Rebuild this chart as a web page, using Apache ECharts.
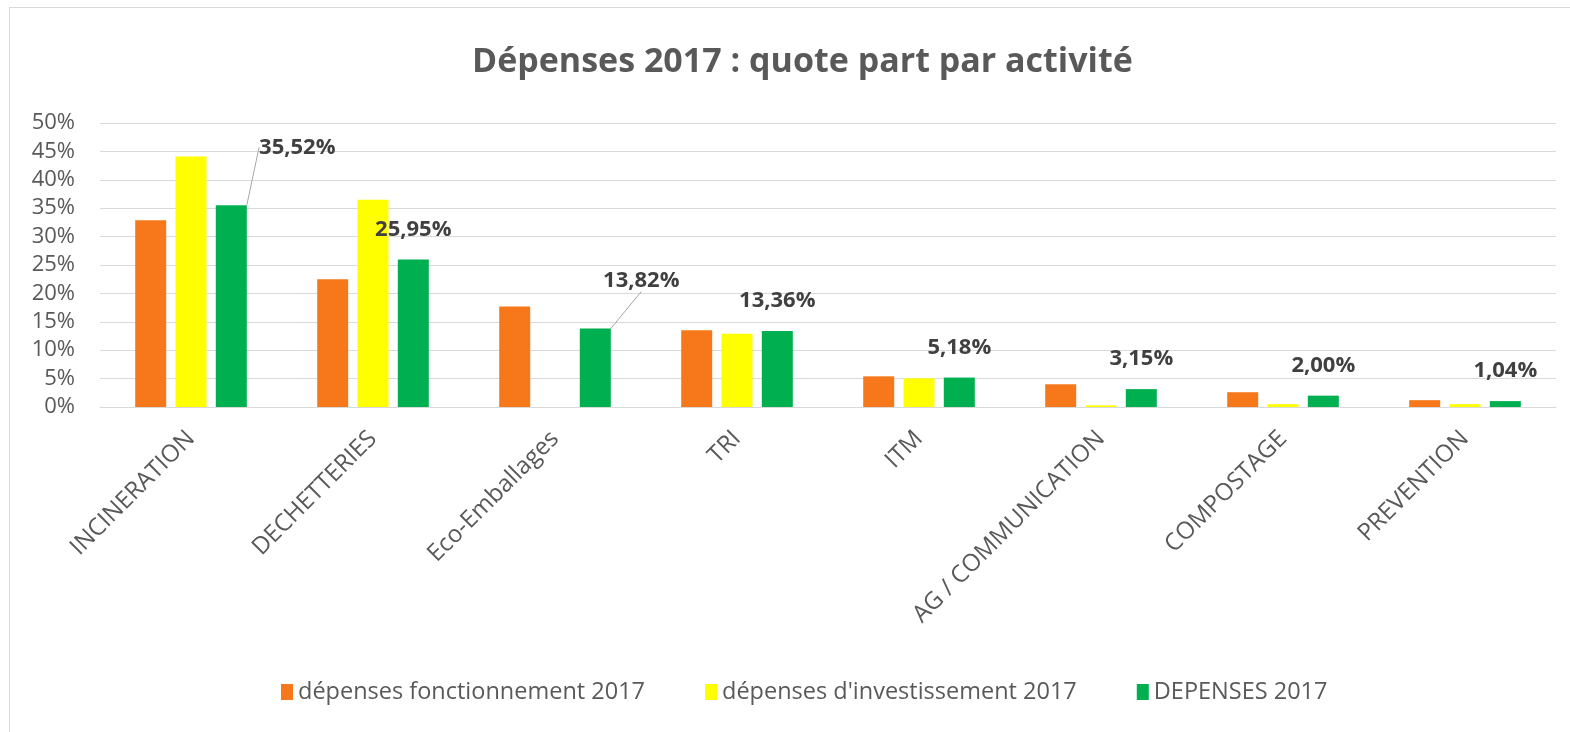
<!DOCTYPE html>
<html>
<head>
<meta charset="utf-8">
<script src="https://cdn.jsdelivr.net/npm/echarts@6/dist/echarts.min.js"></script>
<style>
  html, body { margin: 0; padding: 0; background: #fff; }
  #frame { position: absolute; left: 9px; top: 7px; width: 1580px; height: 760px; border: 1px solid #d9d9d9; }
  #chart { position: absolute; left: 0; top: 0; width: 1570px; height: 732px; }
</style>
</head>
<body>
<div id="frame"></div>
<div id="chart"></div>
<script>
const categories = ['INCINERATION', 'DECHETTERIES', 'Eco-Emballages', 'TRI', 'ITM', 'AG / COMMUNICATION', 'COMPOSTAGE', 'PREVENTION'];
const fonctionnement = [32.9, 22.5, 17.7, 13.5, 5.4, 4.0, 2.6, 1.2];
const investissement = [44.1, 36.5, 0, 12.9, 5.05, 0.3, 0.5, 0.5];
const depenses = [35.52, 25.95, 13.82, 13.36, 5.18, 3.15, 2.00, 1.04];
const seriesNames = ['dépenses fonctionnement 2017', "dépenses d'investissement 2017", 'DEPENSES 2017'];
const yTicks = [0, 5, 10, 15, 20, 25, 30, 35, 40, 45, 50];

// labels that were dragged away from their bar (with a leader line)
const labelMoves = { 0: [66, -28], 2: [46, -18] };

const font = '"Open Sans", sans-serif';
const grey = '#595959';
const chart = echarts.init(document.getElementById('chart'));

const greenData = depenses.map((v, i) => ({
  value: v,
  labelLine: { show: !!labelMoves[i] }
}));

chart.setOption({
  animation: false,
  title: {
    text: 'Dépenses 2017 : quote part par activité',
    left: 467,
    top: 40,
    textStyle: { fontFamily: font, fontSize: 34, fontWeight: 'bold', color: grey }
  },
  legend: {
    top: 675,
    left: 276,
    itemWidth: 12,
    itemHeight: 16,
    itemGap: 60,
    icon: 'rect',
    textStyle: { fontFamily: font, fontSize: 23.5, color: grey }
  },
  grid: { left: 100, right: 14, top: 123, bottom: 325, containLabel: false },
  xAxis: {
    type: 'category',
    data: categories,
    axisLine: { lineStyle: { color: '#d9d9d9', width: 1 } },
    axisTick: { show: false },
    axisLabel: { rotate: 45, interval: 0, margin: 28, fontFamily: font, fontSize: 24, color: grey }
  },
  yAxis: {
    type: 'value',
    min: yTicks[0],
    max: yTicks[yTicks.length - 1],
    interval: 5,
    axisLine: { show: false },
    axisTick: { show: false },
    splitLine: { lineStyle: { color: '#d9d9d9', width: 1 } },
    axisLabel: { formatter: '{value}%', margin: 25, fontFamily: font, fontSize: 22, color: grey }
  },
  series: [
    { name: seriesNames[0], type: 'bar', data: fonctionnement, barWidth: 31, barGap: '30%', itemStyle: { color: '#f7781a' } },
    { name: seriesNames[1], type: 'bar', data: investissement, barWidth: 31, barGap: '30%', itemStyle: { color: '#ffff00' } },
    {
      name: seriesNames[2], type: 'bar', data: greenData, barWidth: 31, barGap: '30%',
      itemStyle: { color: '#00b050' },
      label: {
        show: true, position: 'top', distance: 19,
        fontFamily: font, fontSize: 22, fontWeight: 'bold', color: '#404040',
        formatter: p => p.value.toFixed(2).replace('.', ',') + '%'
      },
      labelLine: { show: false, lineStyle: { color: '#a6a6a6', width: 1 } },
      labelLayout: p => {
        const m = labelMoves[p.dataIndex];
        if (!m) return {};
        return { dx: m[0], dy: m[1] };
      }
    }
  ]
});
</script>
</body>
</html>
